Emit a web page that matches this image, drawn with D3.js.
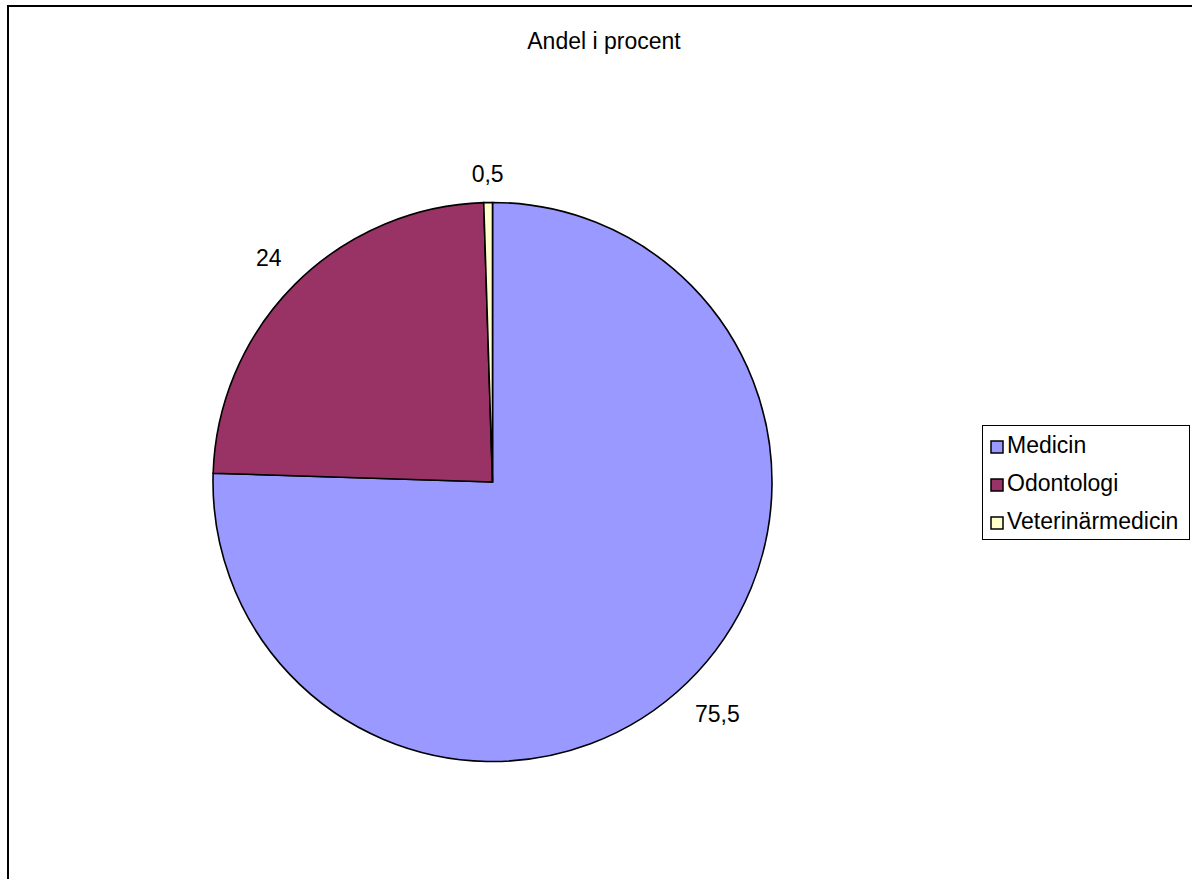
<!DOCTYPE html>
<html>
<head>
<meta charset="utf-8">
<script src="https://cdn.jsdelivr.net/npm/d3@7"></script>
<style>
  html, body { margin: 0; padding: 0; background: #fff; }
  svg { display: block; }
  text { font-family: "Liberation Sans", Arial, sans-serif; fill: #000; }
</style>
</head>
<body>
<svg id="chart" width="1192" height="879"></svg>
<script>
const title = "Andel i procent";
const categories = ["Medicin", "Odontologi", "Veterinärmedicin"];
const values = [75.5, 24, 0.5];
const valueLabels = ["75,5", "24", "0,5"];
const colors = ["#9999FF", "#993366", "#FFFFCC"];

const svg = d3.select("#chart");

// chart area frame
svg.append("rect")
  .attr("x", 8).attr("y", 6)
  .attr("width", 1192).attr("height", 1000)
  .attr("fill", "#fff").attr("stroke", "#000").attr("stroke-width", 2);

svg.append("text")
  .attr("x", 604).attr("y", 49)
  .attr("text-anchor", "middle")
  .style("font-size", "23px")
  .text(title);

const cx = 492.5, cy = 482, r = 279.5;
const data = categories.map((c, i) => ({ name: c, value: values[i], label: valueLabels[i], color: colors[i] }));

const pie = d3.pie().value(d => d.value).sort(null);
const arcs = pie(data);
const arc = d3.arc().innerRadius(0).outerRadius(r);

const g = svg.append("g").attr("transform", `translate(${cx},${cy})`);
g.selectAll("path")
  .data(arcs)
  .join("path")
  .attr("d", arc)
  .attr("fill", d => d.data.color)
  .attr("stroke", "#000")
  .attr("stroke-width", 1.6)
  .attr("stroke-linejoin", "miter");

// labels outside the pie
const labels = g.selectAll("text.lbl")
  .data(arcs)
  .join("text")
  .attr("class", "lbl")
  .attr("text-anchor", "middle")
  .style("font-size", "23px")
  .text(d => d.data.label);

labels.each(function(d) {
  const w = this.getComputedTextLength();
  const a = (d.startAngle + d.endAngle) / 2;
  const R = r + 28 + (w / 2) * Math.abs(Math.sin(a));
  const x = Math.sin(a) * R;
  const y = -Math.cos(a) * R;
  d3.select(this).attr("x", x).attr("y", y + 8);
});

// legend
const lg = svg.append("g");
lg.append("rect")
  .attr("x", 982.5).attr("y", 425.5)
  .attr("width", 207).attr("height", 114)
  .attr("fill", "#fff").attr("stroke", "#000").attr("stroke-width", 1);

const rowY = d3.scalePoint().domain(categories).range([453, 529]);
const items = lg.selectAll("g.item").data(data).join("g").attr("class", "item");
items.append("rect")
  .attr("x", 991).attr("y", d => rowY(d.name) - 12)
  .attr("width", 12).attr("height", 12)
  .attr("fill", d => d.color)
  .attr("stroke", "#000").attr("stroke-width", 1.5);
items.append("text")
  .attr("x", 1007).attr("y", d => rowY(d.name))
  .style("font-size", "23px")
  .text(d => d.name);
</script>
</body>
</html>
